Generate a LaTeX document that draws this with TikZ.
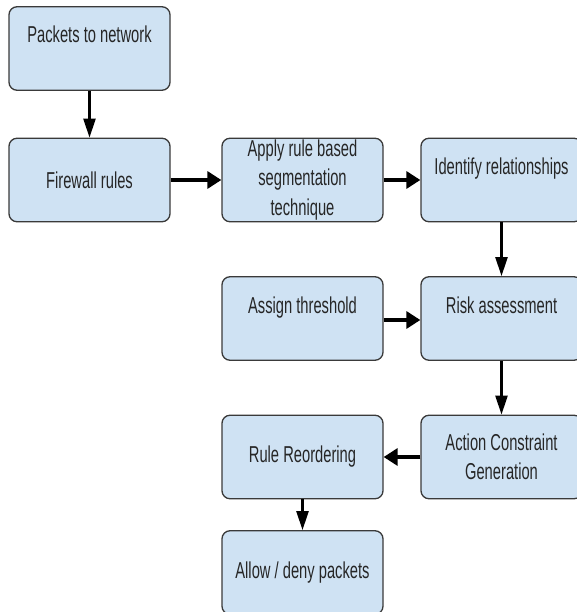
\documentclass[tikz,border=0pt]{standalone}
\usepackage{fontspec}
\setmainfont[FakeStretch=0.64]{Liberation Sans}
\usepackage{xcolor}
\usepackage{tikz}
\usetikzlibrary{arrows.meta}
\definecolor{boxblue}{HTML}{CFE2F3}
\definecolor{boxline}{HTML}{3A3A3A}
\tikzset{every node/.append style={font=\fontsize{23}{29.5}\selectfont, text=black!85}}
\tikzset{
  stepbox/.style={draw=boxline, line width=1.3pt, fill=boxblue, rounded corners=8pt,
    minimum width=161pt, minimum height=83.5pt, inner sep=0pt, align=center},
  toptext/.style={text height=17pt, text depth=28pt},
  harrow/.style={line width=3.3pt, -{Triangle[length=14pt, width=17pt]}},
  varrow/.style={line width=2.5pt, -{Triangle[length=19pt, width=12pt]}}
}

\begin{document}
\begin{tikzpicture}[x=1pt, y=-1pt]
    \useasboundingbox (0,0) rectangle (577,612);
    % first column
    \node[stepbox, toptext] (pkt) at (89.5,48.5) {Packets to network};
    \node[stepbox] (fw) at (89.5,180) {Firewall rules};
    % second column
    \node[stepbox] (apply) at (302.5,180) {Apply rule based\\segmentation\\technique};
    \node[stepbox, toptext] (assign) at (302.5,318.5) {Assign threshold};
    \node[stepbox] (reorder) at (302.5,457) {Rule Reordering};
    \node[stepbox] (allow) at (302.5,572.5) {Allow / deny packets};
    % third column
    \node[stepbox, toptext] (ident) at (501.5,180) {Identify relationships};
    \node[stepbox, toptext] (risk) at (501.5,318.5) {Risk assessment};
    \node[stepbox] (action) at (501.5,457) {Action Constraint\\Generation};
    % connectors
    \draw[varrow] (pkt) -- (fw);
    \draw[harrow] (fw) -- (apply);
    \draw[harrow] (apply) -- (ident);
    \draw[varrow] (ident) -- (risk);
    \draw[harrow] (assign.east |- 0,320) -- (risk.west |- 0,320);
    \draw[varrow] (risk) -- (action);
    \draw[harrow] (action) -- (reorder);
    \draw[varrow] (reorder) -- (allow);
\end{tikzpicture}
\end{document}
